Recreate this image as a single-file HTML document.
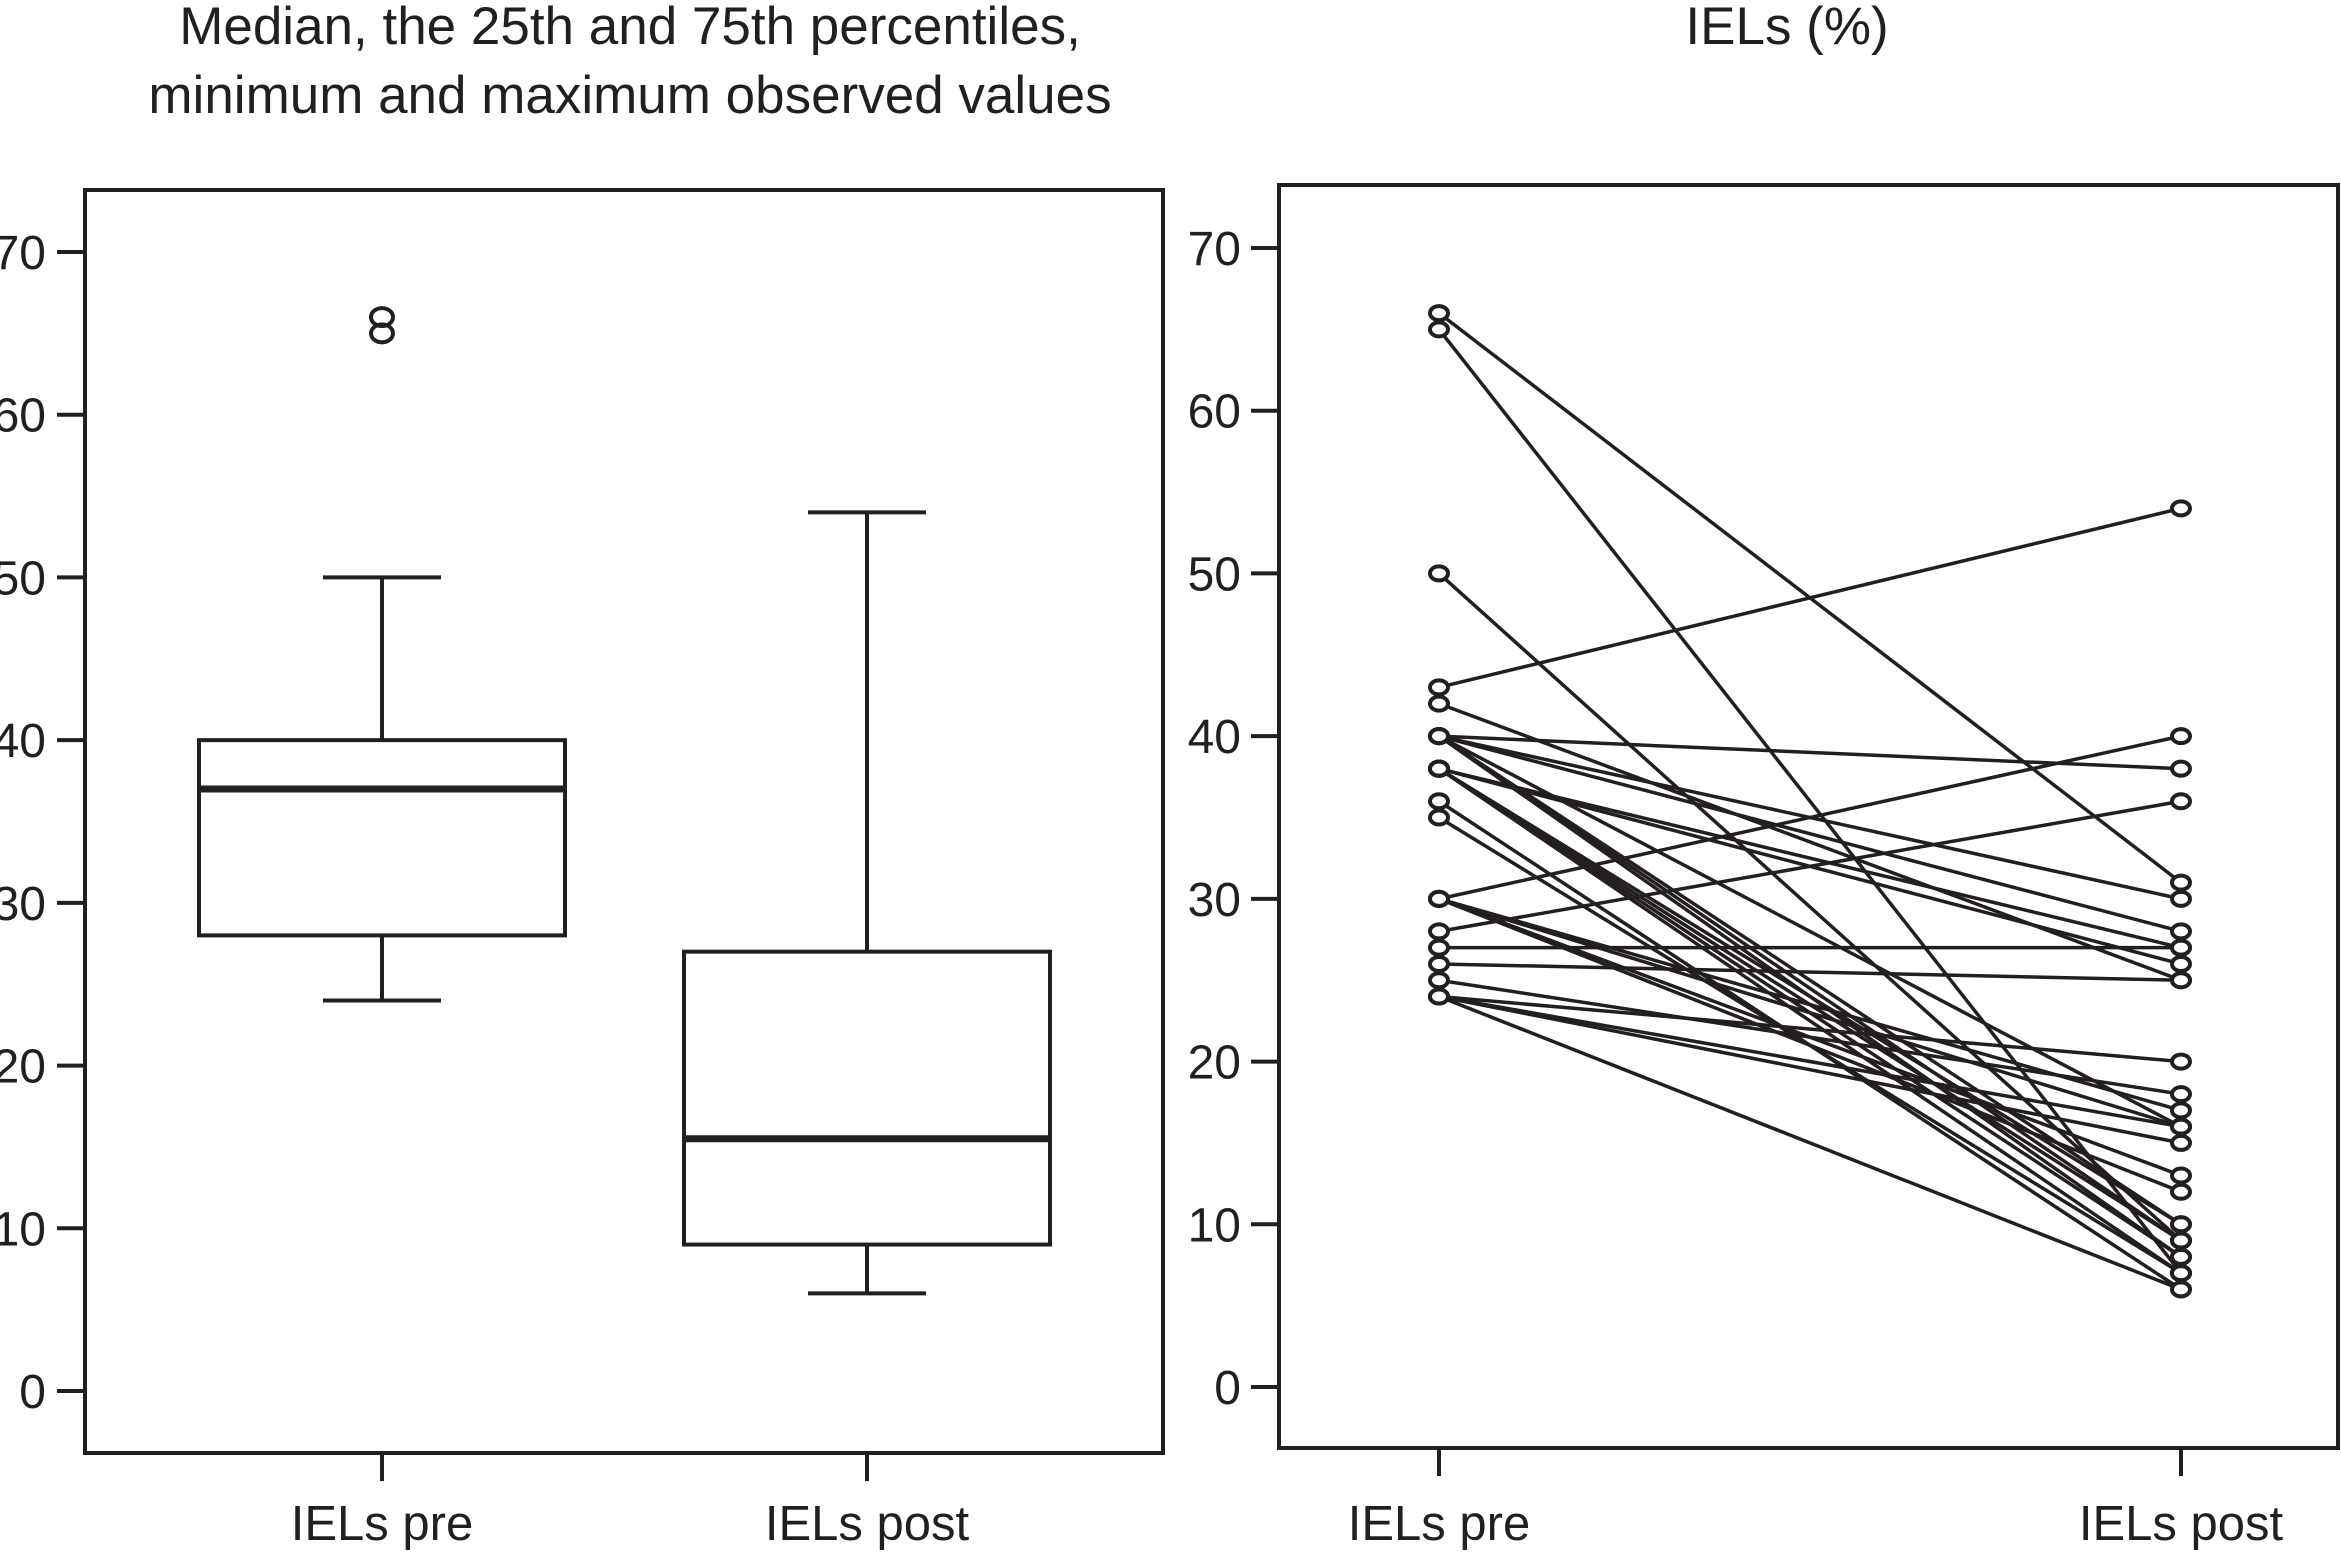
<!DOCTYPE html>
<html><head><meta charset="utf-8"><style>
html,body{margin:0;padding:0;background:#fff;}
svg{display:block;}
text{font-family:"Liberation Sans",Arial,sans-serif;fill:#231f20;}
</style></head><body>
<svg id="chart" width="2341" height="1561" viewBox="0 0 2341 1561" xmlns="http://www.w3.org/2000/svg">
<text x="630" y="44" font-size="53" text-anchor="middle">Median, the 25th and 75th percentiles,</text>
<text x="630" y="113" font-size="53" text-anchor="middle">minimum and maximum observed values</text>
<text x="1787" y="44" font-size="53" text-anchor="middle">IELs (%)</text>
<g id="left"></g>
<g id="right"></g>
</svg>
<script>
const yTicks = [0,10,20,30,40,50,60,70];
const groups = ["IELs pre","IELs post"];
const boxMin = [24,6];
const boxQ1 = [28,9];
const boxMed = [37,15.5];
const boxQ3 = [40,27];
const boxMax = [50,54];
const outlierValues = [65,66];
const preValues  = [66,65,50,43,42,40,40,40,40,40,40,40,38,38,38,38,38,38,36,35,30,30,30,30,30,28,27,26,25,24,24,24,24];
const postValues = [31,7,9,54,25,38,30,28,9,8,10,16,27,26,8,7,10,9,6,7,40,16,13,12,17,36,27,25,18,20,15,6,16];

const NS="http://www.w3.org/2000/svg";
function mk(parent,tag,attrs){const e=document.createElementNS(NS,tag);for(const k in attrs)e.setAttribute(k,attrs[k]);parent.appendChild(e);return e;}
const stroke="#231f20";
const SW=4;

// Left panel
const L={x0:85,x1:1163,y0:190,y1:1453};
const yL=v=>1391-(1391-252)*v/70;
const xL=i=>[382,867][i];
const left=document.getElementById('left');
let fr=mk(left,'rect',{x:L.x0,y:L.y0,width:L.x1-L.x0,height:L.y1-L.y0,fill:'none',stroke:stroke,'stroke-width':SW});


yTicks.forEach(t=>{
  let l=mk(left,'line',{x1:57,x2:L.x0,y1:yL(t),y2:yL(t),stroke:stroke,'stroke-width':SW});
  
  
  let tx=mk(left,'text',{x:46,y:yL(t)+17,'font-size':48,'text-anchor':'end'});
  tx.textContent=t;
  
  
});
groups.forEach((g,i)=>{
  const cx=xL(i), hw=183, cw=59;
  let gEl=mk(left,'g',{});
  
  
  mk(gEl,'line',{x1:cx,x2:cx,y1:yL(boxMax[i]),y2:yL(boxQ3[i]),stroke:stroke,'stroke-width':SW});
  mk(gEl,'line',{x1:cx,x2:cx,y1:yL(boxQ1[i]),y2:yL(boxMin[i]),stroke:stroke,'stroke-width':SW});
  mk(gEl,'line',{x1:cx-cw,x2:cx+cw,y1:yL(boxMax[i]),y2:yL(boxMax[i]),stroke:stroke,'stroke-width':SW});
  mk(gEl,'line',{x1:cx-cw,x2:cx+cw,y1:yL(boxMin[i]),y2:yL(boxMin[i]),stroke:stroke,'stroke-width':SW});
  mk(gEl,'rect',{x:cx-hw,y:yL(boxQ3[i]),width:2*hw,height:yL(boxQ1[i])-yL(boxQ3[i]),fill:'none',stroke:stroke,'stroke-width':SW});
  mk(gEl,'line',{x1:cx-hw,x2:cx+hw,y1:yL(boxMed[i]),y2:yL(boxMed[i]),stroke:stroke,'stroke-width':7});
  let tk=mk(left,'line',{x1:cx,x2:cx,y1:L.y1,y2:L.y1+28,stroke:stroke,'stroke-width':SW});
  
  
  let lb=mk(left,'text',{x:cx,y:1540,'font-size':49,'text-anchor':'middle'});
  lb.textContent=g;
  
  
});
outlierValues.forEach(v=>{
  let o=mk(left,'ellipse',{cx:xL(0),cy:yL(v),rx:11,ry:9,fill:'none',stroke:stroke,'stroke-width':SW});
  
  
});

// Right panel
const R={x0:1279,x1:2338,y0:185,y1:1448};
const yR=v=>1387-(1387-248)*v/70;
const xR=i=>[1439,2181][i];
const right=document.getElementById('right');
let fr2=mk(right,'rect',{x:R.x0,y:R.y0,width:R.x1-R.x0,height:R.y1-R.y0,fill:'none',stroke:stroke,'stroke-width':SW});


yTicks.forEach(t=>{
  let l=mk(right,'line',{x1:1251,x2:R.x0,y1:yR(t),y2:yR(t),stroke:stroke,'stroke-width':SW});
  
  
  let tx=mk(right,'text',{x:1241,y:yR(t)+17,'font-size':48,'text-anchor':'end'});
  tx.textContent=t;
  
  
});
groups.forEach((g,i)=>{
  let tk=mk(right,'line',{x1:xR(i),x2:xR(i),y1:R.y1,y2:R.y1+28,stroke:stroke,'stroke-width':SW});
  
  
  let lb=mk(right,'text',{x:xR(i),y:1540,'font-size':49,'text-anchor':'middle'});
  lb.textContent=g;
  
  
});
preValues.forEach((p,k)=>{
  let ln=mk(right,'line',{x1:xR(0),y1:yR(p),x2:xR(1),y2:yR(postValues[k]),stroke:stroke,'stroke-width':3.5});
  
  
});
preValues.forEach((p,k)=>{
  [[0,p],[1,postValues[k]]].forEach(([i,v])=>{
    let c=mk(right,'ellipse',{cx:xR(i),cy:yR(v),rx:9,ry:7,fill:'#fff',stroke:stroke,'stroke-width':SW});
    
    
  });
});
</script>
</body></html>
